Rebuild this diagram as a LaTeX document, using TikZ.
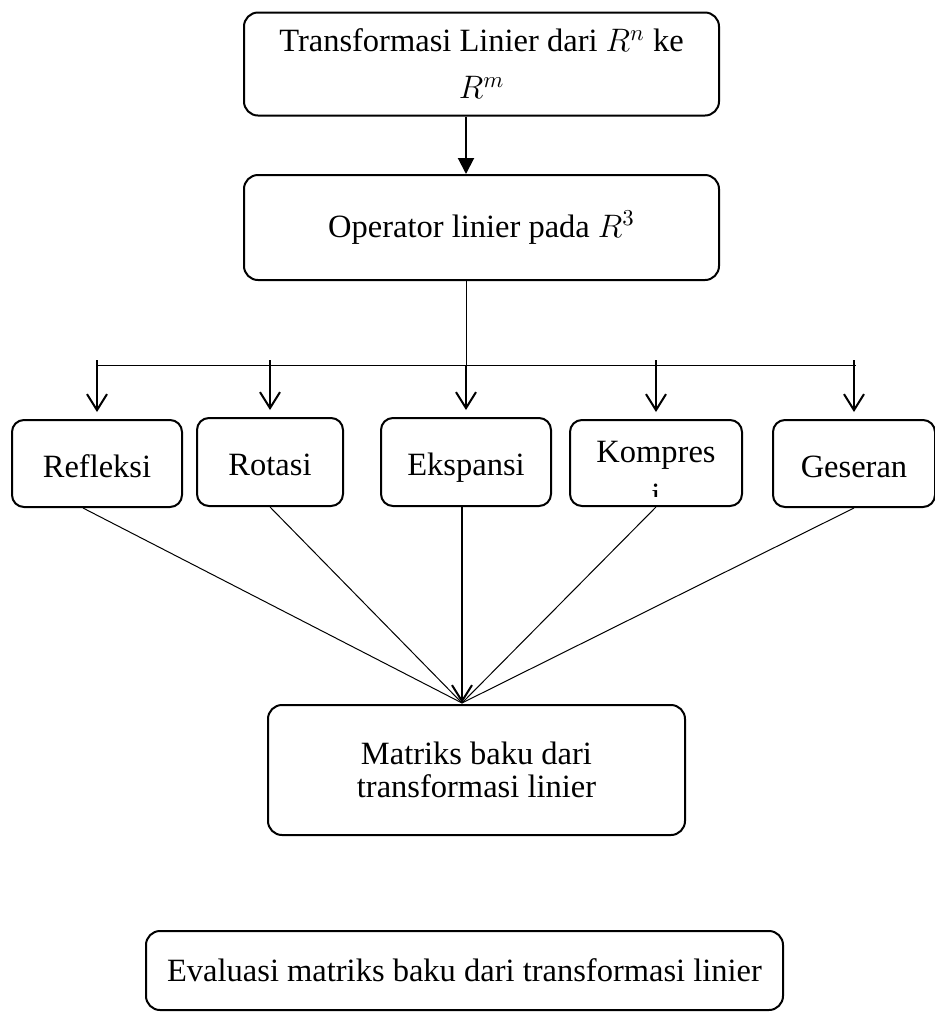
\RequirePackage{fix-cm}
\documentclass[tikz,border=0pt]{standalone}
\usepackage{fontspec}
\setmainfont{Liberation Serif}
\usetikzlibrary{arrows.meta}
\begin{document}
\begin{tikzpicture}[x=0.5pt,y=-0.5pt,
  txt/.style={font=\fontsize{16.25}{16.5}\selectfont},
  bigbox/.style={draw, line width=1pt, rounded corners=7pt, align=center, txt, inner sep=0pt},
  smallbox/.style={draw, line width=1pt, rounded corners=6pt, align=center, txt, inner sep=0pt, text height=13.5pt, text depth=0pt},
  fineline/.style={line width=0.5pt},
  downarr/.style={line width=1pt, -{Straight Barb[length=8pt,width=10pt]}, shorten >=3.5pt},
  solidarr/.style={line width=1pt, -{Triangle[length=8pt,width=8pt]}}
]
\useasboundingbox (0,0) rectangle (935,1014);

% main boxes
\node[bigbox, minimum width=237.5pt, minimum height=51.5pt] (top) at (481.5,64) {Transformasi Linier dari $R^n$ ke\\[7pt]$R^m$};
\node[bigbox, minimum width=237.5pt, minimum height=52.5pt] (op) at (481.5,227.5) {Operator linier pada $R^3$};

\coordinate (spine) at (466,0);
\draw[solidarr] (top.south -| spine) -- (op.north -| spine);

\coordinate (split) at (466,365);
\coordinate (hl) at (98,365);
\coordinate (hr) at (856,365);
\draw[fineline] (op.south -| spine) -- (split);
\draw[fineline] (hl) -- (hr);

% small boxes
\node[smallbox, minimum width=85pt, minimum height=43.5pt] (refl) at (97,463.5) {Refleksi};
\node[smallbox, minimum width=73pt, minimum height=44pt] (rot) at (270,462) {Rotasi};
\node[smallbox, minimum width=85pt, minimum height=44pt] (eks) at (466,462) {Ekspansi};
\node[smallbox, minimum width=86pt, minimum height=43pt] (komp) at (656,463) {};
\node[smallbox, minimum width=81pt, minimum height=43.5pt] (ges) at (854,463.5) {Geseran};

\node[anchor=base, txt, inner sep=0pt] (kompt) at (656,462) {Kompres};
\begin{scope}
  \clip (571,421) rectangle (741,496);
  \node[anchor=base, txt, inner sep=0pt] (kompi) at (656,505) {i};
\end{scope}

% distribution arrows
\draw[downarr] ([yshift=2.5pt]refl.north |- hl) -- (refl.north);
\draw[downarr] ([yshift=2.5pt]rot.north |- hl) -- (rot.north);
\draw[downarr] (split) -- (eks.north);
\draw[downarr] ([yshift=2.5pt]komp.north |- hl) -- (komp.north);
\draw[downarr] ([yshift=2.5pt]ges.north |- hl) -- (ges.north);

% lower boxes
\node[bigbox, minimum width=208.5pt, minimum height=65pt] (mat) at (476.5,770) {Matriks baku dari\\transformasi linier};
\node[bigbox, minimum width=318.5pt, minimum height=39.5pt] (eval) at (464.5,970.5) {Evaluasi matriks baku dari transformasi linier};

% converging lines
\coordinate (conv) at (462,703);
\draw[fineline] ([xshift=-7pt]refl.south) -- (conv);
\draw[fineline] (rot.south) -- (conv);
\draw[line width=1pt, -{Straight Barb[length=8pt,width=10pt]}] (eks.south -| conv) -- (conv);
\draw[fineline] (komp.south) -- (conv);
\draw[fineline] (ges.south) -- (conv);
\end{tikzpicture}
\end{document}
